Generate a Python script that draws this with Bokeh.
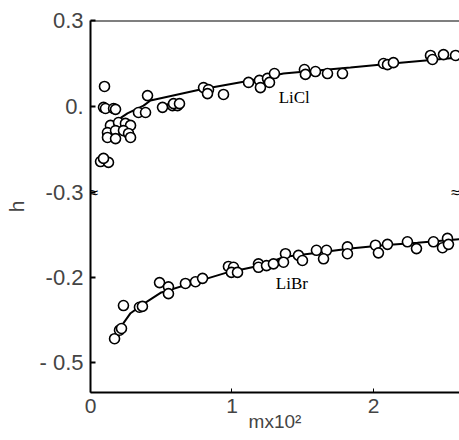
from bokeh.plotting import figure
from bokeh.models import Range1d, FixedTicker, Label, Span
from bokeh.embed import file_html
from bokeh.resources import INLINE

# ---- data ----
licl_x = [0.099, 0.092, 0.106, 0.163, 0.177, 0.339, 0.389, 0.403, 0.509, 0.580, 0.615,
          0.141, 0.198, 0.247, 0.283, 0.120, 0.177, 0.233, 0.120, 0.177, 0.269, 0.283,
          0.071, 0.127, 0.092,
          0.587, 0.629, 0.799, 0.834, 0.827, 0.940, 1.117, 1.194, 1.201, 1.251, 1.265,
          1.300, 1.512, 1.519, 1.590, 1.675, 1.781, 2.071, 2.099, 2.141, 2.403, 2.417,
          2.495, 2.580]
licl_h = [0.070, -0.003, -0.007, -0.007, -0.010, -0.021, -0.021, 0.038, -0.003, 0.003, 0.003,
          -0.066, -0.056, -0.059, -0.066, -0.091, -0.084, -0.084, -0.108, -0.112, -0.094, -0.108,
          -0.192, -0.195, -0.181,
          0.010, 0.010, 0.066, 0.059, 0.045, 0.042, 0.084, 0.091, 0.066, 0.098, 0.084,
          0.115, 0.129, 0.112, 0.122, 0.115, 0.115, 0.150, 0.146, 0.153, 0.178, 0.164,
          0.181, 0.178]
licl_fit_x = [0.085, 0.163, 0.261, 0.375, 0.424, 0.777, 1.131, 1.364, 1.837, 2.191, 2.608]
licl_fit_h = [-0.091, -0.056, -0.024, 0.003, 0.021, 0.059, 0.091, 0.115, 0.136, 0.153, 0.171]

libr_x = [0.170, 0.205, 0.219, 0.233, 0.346, 0.367, 0.488, 0.551, 0.551, 0.671, 0.742,
          0.792, 0.975, 1.011, 0.996, 1.039, 1.187, 1.187, 1.244, 1.293, 1.378, 1.364,
          1.470, 1.498, 1.597, 1.668, 1.647, 1.816, 1.816, 2.014, 2.035, 2.099, 2.240,
          2.304, 2.424, 2.488, 2.523, 2.530]
libr_h = [-0.472, -0.462, -0.460, -0.433, -0.435, -0.434, -0.406, -0.411, -0.419, -0.407, -0.405,
          -0.401, -0.387, -0.388, -0.394, -0.394, -0.384, -0.388, -0.386, -0.384, -0.372, -0.382,
          -0.374, -0.380, -0.368, -0.368, -0.378, -0.364, -0.372, -0.362, -0.371, -0.361, -0.358,
          -0.366, -0.358, -0.365, -0.354, -0.361]
libr_fit_x = [0.198, 0.283, 0.375, 0.495, 0.728, 0.968, 1.201, 1.364, 1.604, 1.837, 2.071,
              2.311, 2.608]
libr_fit_h = [-0.462, -0.442, -0.431, -0.418, -0.406, -0.394, -0.386, -0.376, -0.371, -0.366,
              -0.362, -0.359, -0.355]

x_ticks = [0, 1, 2]
x_tick_labels = ["0", "1", "2"]
top_ticks = [0.3, 0.0, -0.3]
top_tick_labels = ["0.3", "0.", "-0.3"]
bot_ticks = [-0.4, -0.5]
bot_tick_labels = ["-0.2", "- 0.5"]

# ---- layout constants ----
FONT = "Liberation Sans"
X_END = 2.608
FRAME_H = 372
BREAK_PX = 172            # distance from the top of the frame to the axis break
LICL_TOP, LICL_BREAK = 0.3, -0.3
LIBR_BREAK, LIBR_LOW = -0.3, -0.5
LIBR_LOW_PX = 342         # pixel distance from top to the LiBr -0.5 tick

# main (LiCl) range
licl_scale = (LICL_TOP - LICL_BREAK) / BREAK_PX
main_start = LICL_TOP - FRAME_H * licl_scale
# LiBr range
libr_scale = (LIBR_BREAK - LIBR_LOW) / (LIBR_LOW_PX - BREAK_PX)
libr_end = LIBR_BREAK + BREAK_PX * libr_scale
libr_start = LIBR_BREAK - (FRAME_H - BREAK_PX) * libr_scale


def libr_to_main(v):
    return main_start + (v - libr_start) / (libr_end - libr_start) * (LICL_TOP - main_start)


p = figure(frame_width=369, frame_height=FRAME_H, x_range=Range1d(0, X_END),
           y_range=Range1d(main_start, LICL_TOP),
           min_border_left=90, min_border_right=0, min_border_top=20, min_border_bottom=48,
           output_backend="svg", toolbar_location=None)
p.extra_y_ranges = {"libr": Range1d(libr_start, libr_end)}
p.outline_line_color = None
p.xgrid.visible = False
p.ygrid.visible = False

all_ticks = top_ticks + [libr_to_main(v) for v in bot_ticks]
all_labels = top_tick_labels + bot_tick_labels
p.yaxis.ticker = FixedTicker(ticks=all_ticks)
p.yaxis.major_label_overrides = dict(zip(all_ticks, all_labels))
p.yaxis.axis_line_width = 2
p.yaxis.major_tick_in = 5
p.yaxis.major_tick_out = 0
p.yaxis.major_tick_line_width = 2
p.yaxis.minor_tick_in = 0
p.yaxis.minor_tick_out = 0
p.yaxis.major_label_text_font = FONT
p.yaxis.major_label_text_font_size = "22px"
p.yaxis.major_label_standoff = 7
p.yaxis.axis_label = "h"
p.yaxis.axis_label_text_font = FONT
p.yaxis.axis_label_text_font_style = "normal"
p.yaxis.axis_label_text_font_size = "21px"
p.yaxis.axis_label_standoff = 8

p.xaxis.ticker = FixedTicker(ticks=x_ticks)
p.xaxis.major_label_overrides = dict(zip(x_ticks, x_tick_labels))
p.xaxis.axis_line_width = 2
p.xaxis.major_tick_in = 4
p.xaxis.major_tick_out = 0
p.xaxis.minor_tick_in = 0
p.xaxis.minor_tick_out = 0
p.xaxis.major_label_text_font = FONT
p.xaxis.major_label_text_font_size = "21px"
p.xaxis.major_label_standoff = 6
p.xaxis.axis_label = "mx10²"
p.xaxis.axis_label_text_font = FONT
p.xaxis.axis_label_text_font_style = "normal"
p.xaxis.axis_label_text_font_size = "19px"
p.xaxis.axis_label_standoff = -5

p.add_layout(Span(location=LICL_TOP, dimension="width", line_color="black", line_width=2))

p.line(licl_fit_x, licl_fit_h, line_color="black", line_width=2)
p.scatter(licl_x, licl_h, size=10, fill_color="white", line_color="black", line_width=1.6)
p.line(libr_fit_x, libr_fit_h, line_color="black", line_width=2, y_range_name="libr")
p.scatter(libr_x, libr_h, size=10, fill_color="white", line_color="black", line_width=1.6,
          y_range_name="libr")

p.add_layout(Label(x=1.33, y=0.03, text="LiCl", text_font="Liberation Serif",
                   text_font_size="17px", text_color="black", text_baseline="middle"))
p.add_layout(Label(x=1.31, y=-0.407, y_range_name="libr", text="LiBr",
                   text_font="Liberation Serif", text_font_size="17px", text_color="black",
                   text_baseline="middle"))

# axis-break marks (left one sits on the axis line, right one near the right edge)
p.add_layout(Label(x=0, y=LICL_BREAK, x_offset=-1, text="≈", text_align="left",
                   text_baseline="middle", text_font=FONT, text_font_size="16px",
                   text_color="black", level="overlay"))
p.add_layout(Label(x=2.58, y=LICL_BREAK, text="≈", text_align="center", text_baseline="middle",
                   text_font=FONT, text_font_size="16px", text_color="black", level="overlay"))

open("out.html", "w").write(file_html(p, INLINE))
